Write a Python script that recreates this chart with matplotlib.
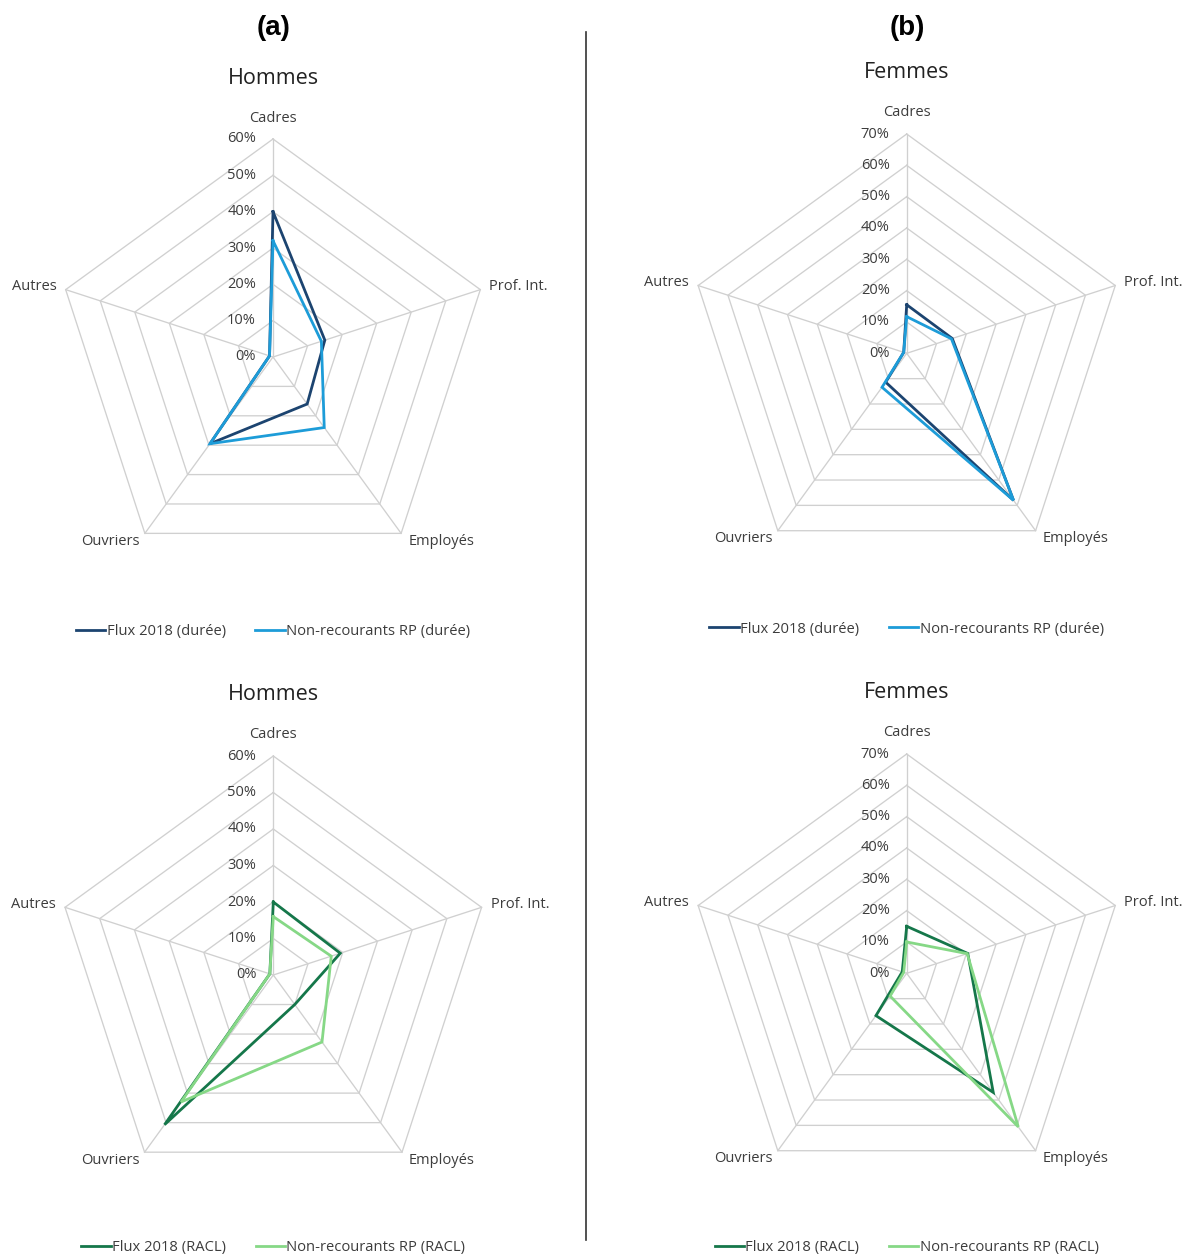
import numpy as np
import matplotlib
matplotlib.use("Agg")
import matplotlib.pyplot as plt
from matplotlib.lines import Line2D

plt.rcParams['font.family'] = ['Open Sans', 'DejaVu Sans']

# Socio-professional categories (clockwise from top)
categories = ["Cadres", "Prof. Int.", "Employés", "Ouvriers", "Autres"]

# Shares in percent, by duration criterion
hommes_flux_duree = [40, 15, 16, 29.5, 1]
hommes_nonrec_duree = [32, 14, 24, 29.5, 1]
femmes_flux_duree = [15.5, 15.3, 58, 11.4, 1]
femmes_nonrec_duree = [11.7, 15, 58, 13.4, 1]

# Shares in percent, by RACL criterion
hommes_flux_racl = [20, 19.3, 10, 50.7, 1]
hommes_nonrec_racl = [16, 16.7, 22.7, 43, 1]
femmes_flux_racl = [15, 20.5, 47, 16.7, 1.5]
femmes_nonrec_racl = [10, 20.3, 60.6, 9, 1]

legend_duree = ["Flux 2018 (durée)", "Non-recourants RP (durée)"]
legend_racl = ["Flux 2018 (RACL)", "Non-recourants RP (RACL)"]

W, H = 1184, 1257
fig = plt.figure(figsize=(W / 100, H / 100), dpi=100)

GRID = "#d0d0d0"
TXT = "#3c3c3c"
BLUE_DARK = "#1c4470"
BLUE_LIGHT = "#1d9cd8"
GREEN_DARK = "#15774a"
GREEN_LIGHT = "#86d886"

n = len(categories)
theta = np.arange(n) * 2 * np.pi / n
theta_c = np.append(theta, theta[0])

label_style = {
    0: dict(off=(0, 21), ha="center", va="center"),
    1: dict(off=(9, 3), ha="left", va="center"),
    2: dict(off=(7, -8), ha="left", va="center"),
    3: dict(off=(-5, -8), ha="right", va="center"),
    4: dict(off=(-9, 3), ha="right", va="center"),
}


def radar(cx, cy, R, rmax, title, ty, series, colors, labels, ly):
    ax = fig.add_axes([(cx - R) / W, (H - cy - R) / H, 2 * R / W, 2 * R / H],
                      projection="polar")
    ax.set_theta_offset(np.pi / 2)
    ax.set_theta_direction(-1)
    ax.set_ylim(0, rmax)
    ax.grid(False)
    ax.spines["polar"].set_visible(False)
    ax.set_xticks([])
    ax.set_yticks([])
    ax.patch.set_alpha(0)

    # pentagonal rings and spokes
    for r in range(10, rmax + 1, 10):
        ax.plot(theta_c, [r] * (n + 1), color=GRID, lw=0.95, clip_on=False, zorder=1)
    for t in theta:
        ax.plot([t, t], [0, rmax], color=GRID, lw=0.95, clip_on=False, zorder=1)

    # radial tick labels along the top axis
    for r in range(0, rmax + 1, 10):
        ax.annotate(f"{r}%", xy=(0, r), xytext=(-17, 0), textcoords="offset pixels",
                    ha="right", va="center", fontsize=10.5, color=TXT,
                    annotation_clip=False)

    # category labels
    for i, cat in enumerate(categories):
        st = label_style[i]
        ax.annotate(cat, xy=(theta[i], rmax), xytext=st["off"],
                    textcoords="offset pixels", ha=st["ha"], va=st["va"],
                    fontsize=10.5, color=TXT, annotation_clip=False)

    handles = []
    for vals, col, lab in zip(series, colors, labels):
        v = np.append(vals, vals[0])
        ln, = ax.plot(theta_c, v, color=col, lw=2.0, clip_on=False, zorder=3,
                      label=lab, solid_joinstyle="miter")
        handles.append(ln)

    fig.text(cx / W, (H - ty) / H, title, ha="center", va="center",
             fontsize=15.5, color="#222222")

    fig.legend(handles=handles, loc="center",
               bbox_to_anchor=(cx / W, (H - ly) / H), ncol=2, frameon=False,
               fontsize=10.6, handlelength=2.0, handletextpad=0.1,
               columnspacing=2.0, labelcolor=TXT)
    return ax


radar(273, 357, 218, 60, "Hommes", 78,
      [hommes_flux_duree, hommes_nonrec_duree], [BLUE_DARK, BLUE_LIGHT],
      legend_duree, 632)
radar(906.7, 353.3, 219.3, 70, "Femmes", 73,
      [femmes_flux_duree, femmes_nonrec_duree], [BLUE_DARK, BLUE_LIGHT],
      legend_duree, 629)
radar(273.3, 975, 219, 60, "Hommes", 694,
      [hommes_flux_racl, hommes_nonrec_racl], [GREEN_DARK, GREEN_LIGHT],
      legend_racl, 1248)
radar(906.7, 973.3, 219.3, 70, "Femmes", 692,
      [femmes_flux_racl, femmes_nonrec_racl], [GREEN_DARK, GREEN_LIGHT],
      legend_racl, 1248)

# panel headers
fig.text(274 / W, (H - 28) / H, "(a)", ha="center", va="center",
         fontsize=20, fontweight="bold", family=["Liberation Sans", "DejaVu Sans"])
fig.text(907 / W, (H - 28) / H, "(b)", ha="center", va="center",
         fontsize=20, fontweight="bold", family=["Liberation Sans", "DejaVu Sans"])

# vertical separator between the two columns
fig.add_artist(Line2D([586 / W, 586 / W], [(H - 32) / H, (H - 1240) / H],
                      transform=fig.transFigure, color="#333333", lw=1.2))

fig.savefig("out.png", dpi=100, facecolor="white")
